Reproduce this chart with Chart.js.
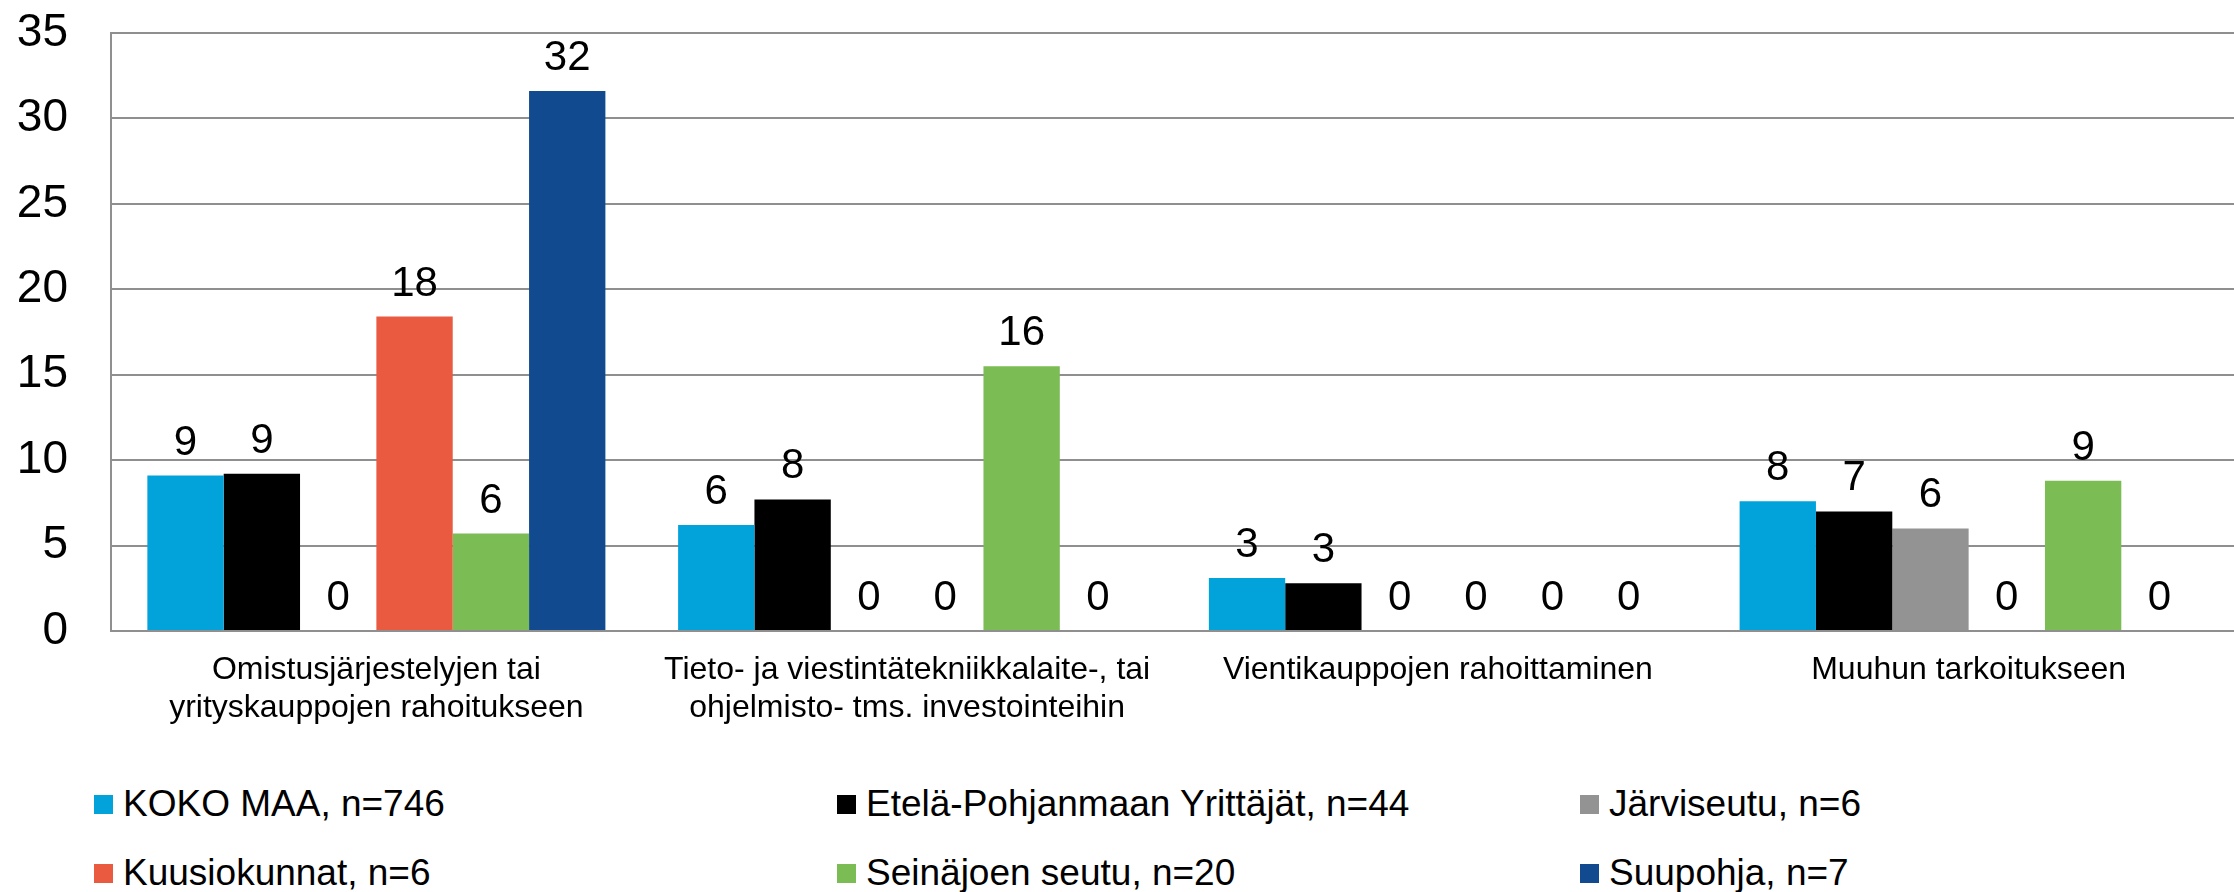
<!DOCTYPE html>
<html><head><meta charset="utf-8">
<script src="https://cdn.jsdelivr.net/npm/chart.js@4.4.1/dist/chart.umd.min.js"></script>
<style>
html,body{margin:0;padding:0;background:#fff;}
#wrap{position:relative;width:2234px;height:892px;overflow:hidden;background:#fff;}
#c{position:absolute;left:0;top:0;}
.leg{position:absolute;display:flex;align-items:center;font-family:"Liberation Sans",Arial,sans-serif;font-size:37px;color:#000;white-space:nowrap;line-height:44px;height:44px;}
.leg .box{display:inline-block;width:19px;height:19px;margin-right:10px;flex:none;}
</style></head><body>
<div id="wrap"><canvas id="c" width="2234" height="760"></canvas><div id="legend"></div></div>
<script>
// ---- data ----
const categories = [
  ["Omistusjärjestelyjen tai", "yrityskauppojen rahoitukseen"],
  ["Tieto- ja viestintätekniikkalaite-, tai", "ohjelmisto- tms. investointeihin"],
  ["Vientikauppojen rahoittaminen"],
  ["Muuhun tarkoitukseen"]
];
const seriesNames = [
  "KOKO MAA, n=746",
  "Etelä-Pohjanmaan Yrittäjät, n=44",
  "Järviseutu, n=6",
  "Kuusiokunnat, n=6",
  "Seinäjoen seutu, n=20",
  "Suupohja, n=7"
];
const kokoMaa        = [9.1, 6.2, 3.1, 7.6];
const etelaPohjanmaa = [9.2, 7.7, 2.8, 7.0];
const jarviseutu     = [0, 0, 0, 6.0];
const kuusiokunnat   = [18.4, 0, 0, 0];
const seinajoki      = [5.7, 15.5, 0, 8.8];
const suupohja       = [31.6, 0, 0, 0];
const yTicks = [0, 5, 10, 15, 20, 25, 30, 35];

const seriesValues = [kokoMaa, etelaPohjanmaa, jarviseutu, kuusiokunnat, seinajoki, suupohja];
const seriesColors = ["#02A3DA", "#000000", "#939393", "#E95A40", "#7BBC55", "#124A8F"];

const FONT = '"Liberation Sans", Arial, sans-serif';
Chart.defaults.font.family = FONT;
Chart.defaults.color = '#000';

const valueLabels = {
  id: 'valueLabels',
  afterDatasetsDraw(chart) {
    const ctx = chart.ctx;
    ctx.save();
    ctx.font = '42px ' + FONT;
    ctx.fillStyle = '#000';
    ctx.textAlign = 'center';
    ctx.textBaseline = 'alphabetic';
    chart.data.datasets.forEach((ds, i) => {
      chart.getDatasetMeta(i).data.forEach((el, j) => {
        ctx.fillText(String(Math.round(ds.data[j])), el.x, el.y - 21);
      });
    });
    ctx.restore();
  }
};

new Chart(document.getElementById('c'), {
  type: 'bar',
  data: {
    labels: categories,
    datasets: seriesNames.map((name, i) => ({
      label: name,
      data: seriesValues[i],
      backgroundColor: seriesColors[i],
      borderWidth: 0,
      categoryPercentage: 0.863,
      barPercentage: 1.0
    }))
  },
  options: {
    responsive: false,
    maintainAspectRatio: false,
    animation: false,
    layout: { padding: { top: 33, right: 0, bottom: 0, left: 0 } },
    plugins: { legend: { display: false }, tooltip: { enabled: false } },
    scales: {
      x: {
        grid: { display: false, drawTicks: false },
        border: { display: true, color: '#8f8f8f', width: 2 },
        ticks: { font: { size: 32, lineHeight: 1.2 }, color: '#000', padding: 20, maxRotation: 0, autoSkip: false },
        afterFit: s => { s.height = 129; s.paddingLeft = 0; s.paddingRight = 0; }
      },
      y: {
        min: 0, max: 35,
        afterBuildTicks: s => { s.ticks = yTicks.map(v => ({ value: v })); },
        grid: { color: '#8f8f8f', lineWidth: 2, drawTicks: false },
        border: { display: true, color: '#8f8f8f', width: 2 },
        ticks: { font: { size: 46 }, color: '#000', padding: 43 },
        afterFit: s => { s.width = 111; s.paddingTop = 0; s.paddingBottom = 0; }
      }
    }
  },
  plugins: [valueLabels]
});

// legend (3 columns x 2 rows)
const legend = document.getElementById('legend');
const colX = [94, 837, 1580];
const rowY = [804, 873];
seriesNames.forEach((name, i) => {
  const d = document.createElement('div');
  d.className = 'leg';
  d.style.left = colX[i % 3] + 'px';
  d.style.top = (rowY[Math.floor(i / 3)] - 22) + 'px';
  const b = document.createElement('span');
  b.className = 'box';
  b.style.background = seriesColors[i];
  d.appendChild(b);
  d.appendChild(document.createTextNode(name));
  legend.appendChild(d);
});
</script>
</body></html>
